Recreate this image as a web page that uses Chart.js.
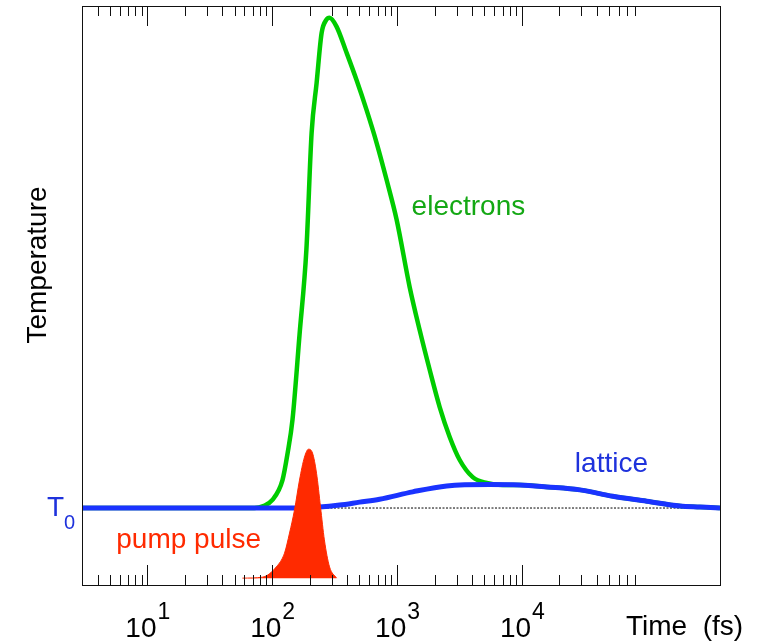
<!DOCTYPE html>
<html>
<head>
<meta charset="utf-8">
<script src="https://cdn.jsdelivr.net/npm/chart.js@4/dist/chart.umd.min.js"></script>
<style>
  html, body { margin: 0; padding: 0; background: #fff; }
  #wrap { width: 760px; height: 642px; }
</style>
</head>
<body>
<div id="wrap"><canvas id="grafico" width="760" height="642"></canvas></div>
<script>
// time in fs, temperature in arbitrary units above T0
const tempoEletrons = [3, 30, 60, 72, 85, 100, 121, 133, 145.5, 165.6, 188, 207, 227, 249, 272, 288, 328, 394, 474, 570, 686, 826, 993, 1262, 1518, 1826, 2196, 2641, 3177, 4039, 5233, 7031, 9620, 15850, 29100, 53500, 100000, 184500, 267000, 386000]
const tempEletrons = [0, 0, 0, 0, 0.04, 0.16, 0.57, 1.12, 1.80, 3.53, 5.27, 7.65, 8.67, 9.69, 9.96, 10.0, 9.82, 9.29, 8.73, 8.12, 7.45, 6.69, 5.88, 4.51, 3.63, 2.82, 2.06, 1.45, 0.98, 0.63, 0.51, 0.47, 0.47, 0.43, 0.37, 0.24, 0.14, 0.04, 0.02, 0]

const tempoRede = [3, 50, 150, 239, 347, 501, 725, 1334, 2500, 5530, 9620, 15850, 29100, 53500, 100000, 184500, 267000, 386000]
const tempRede = [0, 0, 0, 0.02, 0.06, 0.12, 0.18, 0.33, 0.45, 0.48, 0.47, 0.43, 0.37, 0.24, 0.14, 0.04, 0.02, 0]

const tempoPulso = [57.8, 83.6, 108, 125.6, 137.8, 151, 165.6, 181.6, 195.5, 210.5, 226.6, 244, 262, 288, 328]
const ampPulso = [-1.43, -1.41, -1.20, -0.92, -0.51, -0.04, 0.57, 1.04, 1.20, 1.12, 0.71, 0.02, -0.65, -1.20, -1.43]
const basePulso = -1.43

const tempoT0 = [3, 386000]
const tempT0 = [0, 0]

const ticksMaiores = [10, 100, 1000, 10000]
const rotulosExpoente = ['1', '2', '3', '4']
const ticksMenores = [3, 4, 5, 6, 7, 8, 9, 20, 30, 40, 50, 60, 70, 80, 90, 200, 300, 400, 500, 600, 700, 800, 900,
    2000, 3000, 4000, 5000, 6000, 7000, 8000, 9000, 20000, 30000, 40000, 50000, 60000, 70000, 80000]

const fonte = '"Liberation Sans", Arial, sans-serif'

const juntar = (xs, ys) => xs.map((x, i) => ({ x, y: ys[i] }))

// ticks pointing inwards, labels and the annotations
const eixos = {
    id: 'eixos',
    afterDraw(chart) {
        const { ctx, chartArea: a, scales: { x, y } } = chart
        ctx.save()
        ctx.strokeStyle = '#111'
        ctx.lineWidth = 1
        ctx.strokeRect(a.left + 0.5, a.top + 0.5, a.right - a.left, a.bottom - a.top)

        const todos = ticksMenores.concat(ticksMaiores)
        ctx.beginPath()
        for (const v of todos) {
            const px = Math.round(x.getPixelForValue(v)) + 0.5
            const len = ticksMaiores.includes(v) ? 20 : 10
            ctx.moveTo(px, a.bottom)
            ctx.lineTo(px, a.bottom - len)
            ctx.moveTo(px, a.top)
            ctx.lineTo(px, a.top + len)
        }
        ctx.stroke()

        ctx.fillStyle = '#000'
        ctx.textBaseline = 'alphabetic'
        ctx.textAlign = 'left'
        ticksMaiores.forEach((v, i) => {
            const px = x.getPixelForValue(v)
            ctx.font = '28px ' + fonte
            const w1 = ctx.measureText('10').width
            ctx.font = '23px ' + fonte
            const w2 = ctx.measureText(rotulosExpoente[i]).width
            const x0 = px - (w1 + w2) / 2
            ctx.font = '28px ' + fonte
            ctx.fillText('10', x0, 637)
            ctx.font = '23px ' + fonte
            ctx.fillText(rotulosExpoente[i], x0 + w1 + 1, 619)
        })

        ctx.font = '28px ' + fonte
        ctx.fillText('Time  (fs)', 626, 635)

        ctx.save()
        ctx.translate(46, 265)
        ctx.rotate(-Math.PI / 2)
        ctx.textAlign = 'center'
        ctx.fillText('Temperature', 0, 0)
        ctx.restore()

        // T0 label
        ctx.fillStyle = '#1e32dc'
        ctx.font = '28px ' + fonte
        ctx.fillText('T', 47, 516)
        ctx.font = '20px ' + fonte
        ctx.fillText('0', 64, 529)

        ctx.font = '28px ' + fonte
        ctx.fillStyle = '#14a814'
        ctx.fillText('electrons', x.getPixelForValue(1309), y.getPixelForValue(5.98))
        ctx.fillStyle = '#1e32dc'
        ctx.fillText('lattice', x.getPixelForValue(26550), y.getPixelForValue(0.73))
        ctx.fillStyle = '#ff2a00'
        ctx.fillText('pump pulse', x.getPixelForValue(5.64), y.getPixelForValue(-0.82))
        ctx.restore()
    }
}

const ctx = document.querySelector('#grafico')

const chart = new Chart(ctx, {
    type: 'line',
    data: {
        datasets: [
            {
                label: 'pump pulse',
                data: juntar(tempoPulso, ampPulso),
                borderColor: '#ff2a00',
                backgroundColor: '#ff2a00',
                borderWidth: 1,
                fill: { value: basePulso },
                cubicInterpolationMode: 'monotone',
                pointRadius: 0
            },
            {
                label: 'lattice',
                data: juntar(tempoRede, tempRede),
                borderColor: '#1a33ff',
                borderWidth: 5,
                cubicInterpolationMode: 'monotone',
                pointRadius: 0
            },
            {
                label: 'electrons',
                data: juntar(tempoEletrons, tempEletrons),
                borderColor: '#00cc00',
                borderWidth: 4.5,
                cubicInterpolationMode: 'monotone',
                pointRadius: 0
            },
            {
                label: 'T0',
                data: juntar(tempoT0, tempT0),
                borderColor: '#000',
                borderWidth: 1,
                borderDash: [2, 1.5],
                pointRadius: 0
            }
        ]
    },
    options: {
        responsive: false,
        animation: false,
        layout: { padding: { left: 82, right: 40, top: 6, bottom: 57 } },
        plugins: {
            legend: { display: false },
            tooltip: { enabled: false }
        },
        scales: {
            x: { type: 'logarithmic', min: 3, max: 386000, display: false },
            y: { type: 'linear', min: -1.57, max: 10.24, display: false }
        }
    },
    plugins: [eixos]
})
</script>
</body>
</html>
